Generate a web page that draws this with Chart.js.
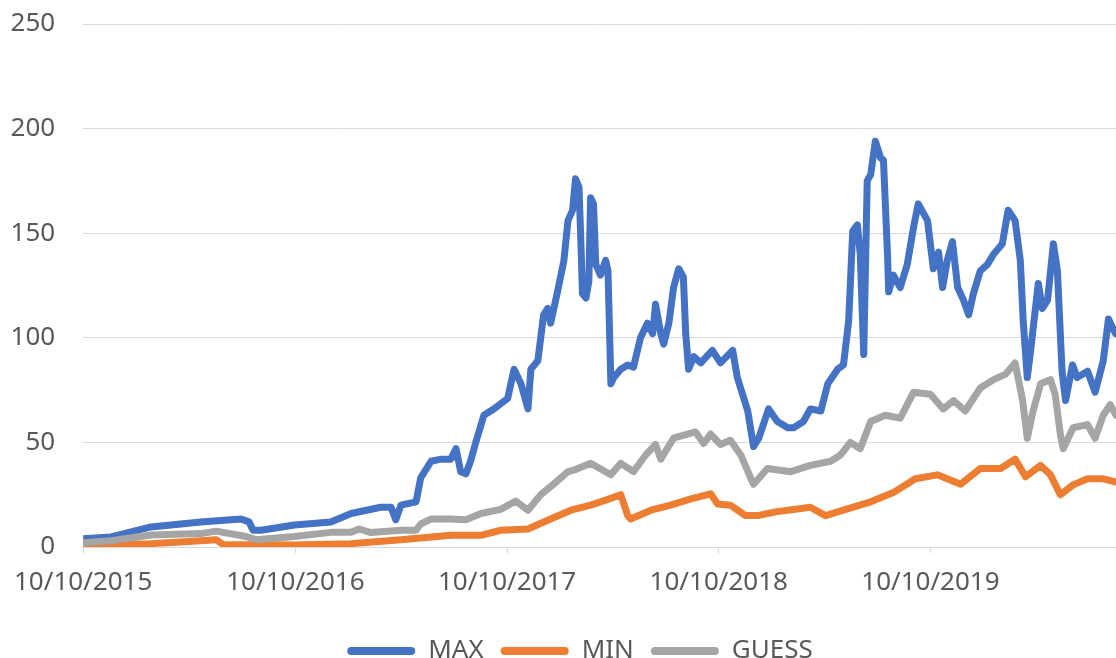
<!DOCTYPE html>
<html>
<head>
<meta charset="utf-8">
<title>MAX / MIN / GUESS</title>
<script src="https://cdn.jsdelivr.net/npm/chart.js@4.4.1/dist/chart.umd.min.js"></script>
<style>
  html, body { margin: 0; padding: 0; background: #fff; }
  #wrap { width: 1116px; height: 658px; }
</style>
</head>
<body>
<div id="wrap"><canvas id="myChart" width="1116" height="658"></canvas></div>
<script>
// x values are days counted from 10/10/2015
const tickDays = [0, 366, 731, 1096, 1461];
const tickLabels = ["10/10/2015", "10/10/2016", "10/10/2017", "10/10/2018", "10/10/2019"];
const lastDay = 1781;

const maxDays = [0, 48, 117, 203, 272, 286, 293, 307, 364, 427,
  462, 513, 531, 539, 548, 574, 582, 600, 617, 634,
  643, 651, 660, 668, 677, 691, 708, 732, 743, 755,
  767, 772, 784, 794, 801, 806, 818, 829, 836, 844,
  849, 855, 858, 861, 867, 872, 875, 880, 884, 892,
  901, 905, 910, 915, 927, 939, 949, 961, 973, 982,
  987, 996, 1001, 1010, 1018, 1027, 1035, 1039, 1044, 1053,
  1065, 1085, 1099, 1120, 1128, 1146, 1156, 1165, 1182, 1197,
  1215, 1225, 1242, 1254, 1272, 1284, 1301, 1311, 1320, 1327,
  1335, 1340, 1346, 1352, 1358, 1366, 1375, 1380, 1387, 1389,
  1397, 1409, 1421, 1432, 1440, 1456, 1466, 1475, 1482, 1490,
  1499, 1508, 1518, 1527, 1535, 1547, 1559, 1570, 1585, 1595,
  1607, 1616, 1621, 1628, 1633, 1647, 1654, 1663, 1673, 1680,
  1688, 1694, 1706, 1714, 1732, 1745, 1759, 1768, 1780];
const maxValues = [4, 4.8, 9.6, 12, 13.4, 12, 8, 8, 10.5, 12,
  16, 19, 19, 13, 20, 21.6, 33, 41, 42, 42,
  47, 36, 35, 41, 50, 63, 66, 71, 85, 78,
  66, 85, 89, 111, 114, 107, 122, 137, 156, 161,
  176, 172, 148, 121, 119, 127, 167, 164, 135, 130,
  137, 132, 78, 81, 85, 87, 86, 100, 107, 102,
  116, 102, 97, 107, 124, 133, 129, 102, 85, 91,
  88, 94, 88, 94, 81, 65, 48, 52, 66, 60,
  57, 57, 60, 66, 65, 78, 85, 87, 108, 151,
  154, 140, 92, 175, 178, 194, 186, 185, 140, 122,
  130, 124, 135, 153, 164, 156, 133, 141, 124, 137,
  146, 124, 118, 111, 121, 132, 135, 140, 145, 161,
  156, 137, 108, 81, 92, 126, 114, 118, 145, 132,
  84, 70, 87, 81, 84, 74, 89, 109, 102];

const minDays = [0, 117, 203, 229, 241, 364, 462, 548, 634, 686,
  720, 767, 806, 841, 875, 901, 927, 939, 944, 979,
  1013, 1048, 1082, 1094, 1116, 1142, 1163, 1194, 1254, 1280,
  1315, 1358, 1397, 1435, 1473, 1513, 1547, 1582, 1607, 1625,
  1651, 1668, 1685, 1707, 1732, 1759, 1781];
const minValues = [1, 1.6, 3, 3.5, 1.2, 1, 1.6, 3.5, 5.6, 5.6,
  8, 8.6, 13.4, 17.6, 20, 22.4, 25, 15, 13.4, 17.6,
  20, 23, 25.4, 20.6, 20, 15, 15, 16.8, 19, 15,
  18, 21.6, 26, 32.6, 34.5, 30, 37.5, 37.5, 42, 33.6,
  39, 34.5, 25, 29.7, 32.6, 32.6, 31];

const guessDays = [0, 48, 117, 203, 229, 281, 298, 364, 427, 462,
  476, 496, 548, 574, 582, 600, 634, 660, 686, 720,
  746, 767, 789, 811, 836, 849, 875, 910, 927, 949,
  970, 987, 996, 1018, 1039, 1056, 1070, 1082, 1099, 1116,
  1134, 1151, 1156, 1180, 1220, 1254, 1289, 1306, 1323, 1340,
  1358, 1383, 1409, 1432, 1461, 1483, 1501, 1521, 1547, 1570,
  1590, 1607, 1620, 1628, 1638, 1651, 1668, 1676, 1685, 1690,
  1707, 1732, 1745, 1759, 1771, 1781];
const guessValues = [2, 3, 5.7, 6.4, 7.6, 5, 3.5, 5, 7, 7,
  8.6, 6.9, 8, 8, 11, 13.4, 13.4, 13, 16, 18,
  22, 17.6, 25, 30, 36, 37, 40, 34.5, 40, 36,
  44, 49, 42, 52, 53.7, 55, 49.5, 54, 49, 51,
  44, 33, 30, 37.5, 36, 39, 41, 44, 50, 47,
  60, 63, 61.6, 74, 73, 66, 70, 65, 76, 80,
  82.5, 88, 70, 52, 65, 78, 80, 73, 54, 47,
  57, 58.5, 52, 63, 68, 63];

function toPoints(days, values) {
  return days.map(function(d, i) { return { x: d, y: values[i] }; });
}

const textColor = "#595959";
const gridColor = "#d9d9d9";
const fontFamily = "'Noto Sans', 'Open Sans', sans-serif";

function lineSet(label, days, values, color, order) {
  return {
    label: label,
    data: toPoints(days, values),
    borderColor: color,
    backgroundColor: color,
    borderWidth: 7,
    pointRadius: 0,
    tension: 0,
    borderJoinStyle: "round",
    borderCapStyle: "round",
    order: order
  };
}

// the original legend sits a little right of centre
const legendShift = {
  id: "legendShift",
  afterLayout: function(chart) {
    chart.legend.left += 22;
    chart.legend.right += 22;
  }
};

let ctx = document.getElementById("myChart").getContext("2d");
let myChart = new Chart(ctx, {
  type: "line",
  data: {
    datasets: [
      lineSet("MAX", maxDays, maxValues, "#4472C4", 3),
      lineSet("MIN", minDays, minValues, "#ED7D31", 2),
      lineSet("GUESS", guessDays, guessValues, "#A5A5A5", 1)
    ]
  },
  plugins: [legendShift],
  options: {
    responsive: false,
    animation: false,
    layout: {
      padding: { top: 24, right: 0, bottom: -16, left: 0 }
    },
    plugins: {
      legend: {
        position: "bottom",
        labels: {
          boxWidth: 68,
          boxHeight: 8,
          useBorderRadius: true,
          borderRadius: 4,
          padding: 17,
          color: textColor,
          font: { family: fontFamily, size: 26 },
          // keep MAX, MIN, GUESS order even though GUESS is drawn on top
          sort: function(a, b) { return a.datasetIndex - b.datasetIndex; },
          generateLabels: function(chart) {
            return Chart.defaults.plugins.legend.labels.generateLabels(chart).map(function(item) {
              item.lineWidth = 0;
              return item;
            });
          }
        }
      },
      tooltip: { enabled: false }
    },
    scales: {
      x: {
        type: "linear",
        min: 0,
        max: lastDay,
        afterBuildTicks: function(scale) {
          scale.ticks = tickDays.map(function(v) { return { value: v }; });
        },
        afterFit: function(scale) { scale.height = 74; },
        ticks: {
          autoSkip: false,
          maxRotation: 0,
          padding: 14,
          color: textColor,
          font: { family: fontFamily, size: 26 },
          callback: function(value) {
            const i = tickDays.indexOf(value);
            return i >= 0 ? tickLabels[i] : "";
          }
        },
        grid: {
          drawOnChartArea: false,
          drawTicks: true,
          tickLength: 6,
          color: gridColor
        },
        border: { display: true, color: gridColor, width: 1 }
      },
      y: {
        min: 0,
        max: 250,
        afterFit: function(scale) {
          scale.width = 79;
          scale.paddingTop = 0;
          scale.paddingBottom = 0;
        },
        ticks: {
          stepSize: 50,
          padding: 28,
          color: textColor,
          font: { family: fontFamily, size: 26 }
        },
        grid: { color: gridColor, lineWidth: 1, drawTicks: false },
        border: { display: false }
      }
    }
  }
});
</script>
</body>
</html>
